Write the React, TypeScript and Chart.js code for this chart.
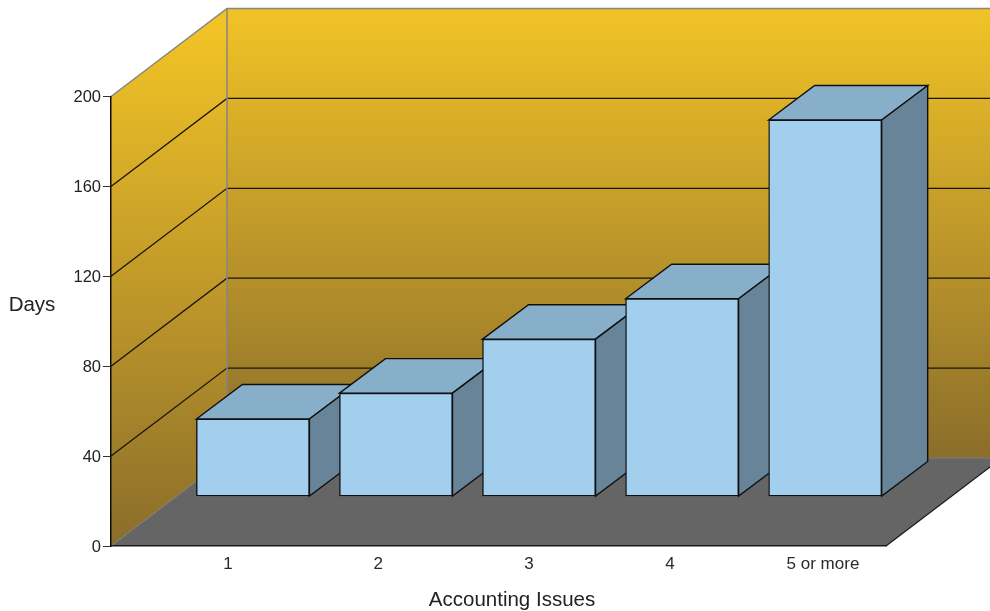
import React, { useEffect, useRef } from "react";
import { Chart, registerables } from "chart.js";

Chart.register(...registerables);

// Days per number of accounting issues
const categories = ["1", "2", "3", "4", "5 or more"];
const categoryKeys = [1, 2, 3, 4, 5];
const days = [34.5, 46, 70, 88, 167.5];
const tickStops = [1, 2.008, 3.02, 3.966, 4.993];
const yTitle = "Days";
const xTitle = "Accounting Issues";

// Oblique projection of the box the chart sits in
const ROOM_DX = 116;
const ROOM_DY = 88;
const BAR_SHIFT_X = 65;
const BAR_SHIFT_Y = 49.5;
const BAR_DEPTH_X = 46;
const BAR_DEPTH_Y = 34.5;

const FONT = '"Liberation Sans", Arial, sans-serif';

function poly(ctx: CanvasRenderingContext2D, pts: number[][]) {
  ctx.beginPath();
  pts.forEach(([x, y], i) => (i ? ctx.lineTo(x, y) : ctx.moveTo(x, y)));
  ctx.closePath();
}

function line(ctx: CanvasRenderingContext2D, pts: number[][], color: string, width: number) {
  ctx.beginPath();
  pts.forEach(([x, y], i) => (i ? ctx.lineTo(x, y) : ctx.moveTo(x, y)));
  ctx.strokeStyle = color;
  ctx.lineWidth = width;
  ctx.stroke();
}

const roomPlugin = {
  id: "room",
  beforeDatasetsDraw(chart: any) {
    const { ctx, chartArea: a, scales } = chart;
    const y = scales.y;
    const { left, right, top, bottom } = a;
    const backLeft = left + ROOM_DX;
    const backRight = right + ROOM_DX;
    const backTop = top - ROOM_DY;
    const backBottom = bottom - ROOM_DY;

    ctx.save();
    const makeWall = (from: number, to: number) => {
      const g = ctx.createLinearGradient(0, from, 0, to);
      g.addColorStop(0, "#f1c326");
      g.addColorStop(0.6, "#b5902a");
      g.addColorStop(1, "#8a6d2b");
      return g;
    };

    ctx.fillStyle = makeWall(backTop + 22, bottom);
    poly(ctx, [[left, top], [backLeft, backTop], [backLeft, backBottom], [left, bottom]]);
    ctx.fill();

    ctx.fillStyle = makeWall(backTop, backBottom);
    ctx.fillRect(backLeft, backTop, backRight - backLeft, backBottom - backTop);

    // Grid lines run across the side wall and along the back wall
    y.ticks.forEach((t: any) => {
      if (t.value === y.min || t.value === y.max) return;
      const py = y.getPixelForValue(t.value);
      line(ctx, [[left, py], [backLeft, py - ROOM_DY], [backRight, py - ROOM_DY]], "#1a1408", 1.3);
    });

    ctx.fillStyle = "#656565";
    poly(ctx, [[left, bottom], [backLeft, backBottom], [backRight, backBottom], [right, bottom]]);
    ctx.fill();

    line(ctx, [[left, bottom], [backLeft, backBottom], [backRight, backBottom]], "#7d7d7d", 1);
    line(ctx, [[right, bottom], [backRight, backBottom]], "#1a1a1a", 1.2);
    line(ctx, [[left, top], [backLeft, backTop], [backRight, backTop]], "#858585", 1.5);
    line(ctx, [[backLeft, backTop], [backLeft, backBottom]], "#858585", 1.5);
    ctx.restore();
  },
  beforeDatasetDraw(chart: any) {
    const { ctx } = chart;
    const bars = chart.getDatasetMeta(0).data;
    ctx.save();
    ctx.translate(BAR_SHIFT_X, -BAR_SHIFT_Y);
    // Top and side faces go down first; the library paints the front faces over them
    bars.forEach((el: any) => {
      const l = el.x - el.width / 2;
      const r = el.x + el.width / 2;
      const t = el.y;
      const b = el.base;
      ctx.fillStyle = "#88afca";
      poly(ctx, [[l, t], [l + BAR_DEPTH_X, t - BAR_DEPTH_Y], [r + BAR_DEPTH_X, t - BAR_DEPTH_Y], [r, t]]);
      ctx.fill();
      ctx.strokeStyle = "#101010";
      ctx.lineWidth = 1.4;
      ctx.stroke();
      ctx.fillStyle = "#678498";
      poly(ctx, [[r, t], [r + BAR_DEPTH_X, t - BAR_DEPTH_Y], [r + BAR_DEPTH_X, b - BAR_DEPTH_Y], [r, b]]);
      ctx.fill();
      ctx.stroke();
    });
  },
  afterDatasetDraw(chart: any) {
    chart.ctx.restore();
  },
  afterDraw(chart: any) {
    const { ctx } = chart;
    ctx.save();
    ctx.fillStyle = "#222222";
    ctx.font = `20.5px ${FONT}`;
    ctx.textAlign = "center";
    ctx.textBaseline = "middle";
    ctx.fillText(yTitle, 32, 305);
    ctx.fillText(xTitle, 512, 600);
    ctx.restore();
  },
};

export default function App() {
  const ref = useRef<HTMLCanvasElement>(null);

  useEffect(() => {
    const chart = new Chart(ref.current!, {
      type: "bar",
      data: {
        datasets: [
          {
            data: categoryKeys.map((k, i) => ({ x: k, y: days[i] })),
            xAxisID: "barX",
            backgroundColor: "#a3cfef",
            borderColor: "#101010",
            borderWidth: 1.4,
            borderSkipped: false,
            barThickness: 113,
            clip: false,
          },
        ],
      } as any,
      options: {
        animation: false,
        responsive: false,
        layout: { padding: { left: 0, top: 96.5, right: 104, bottom: 0 } },
        plugins: { legend: { display: false }, tooltip: { enabled: false } },
        scales: {
          barX: {
            type: "linear",
            display: false,
            offset: false,
            min: 0.4625,
            max: 5.8794,
          },
          x: {
            type: "linear",
            position: "bottom",
            offset: false,
            min: 0.2148,
            max: 5.416,
            afterFit: (s: any) => {
              s.height = 65;
            },
            afterBuildTicks: (s: any) => {
              s.ticks = tickStops.map((value) => ({ value }));
            },
            grid: { display: false, drawTicks: false },
            border: { display: true, color: "#1a1a1a", width: 1.5, z: 1 },
            ticks: {
              autoSkip: false,
              maxRotation: 0,
              padding: 8,
              color: "#2a2a2a",
              font: { family: FONT, size: 17 },
              callback: (_v: any, i: number) => categories[i],
            },
          },
          y: {
            type: "linear",
            min: 0,
            max: 200,
            afterFit: (s: any) => {
              s.width = 111;
            },
            grid: { drawOnChartArea: false, drawTicks: true, tickLength: 8, tickColor: "#333333" },
            border: { display: true, color: "#0d0d0d", width: 1.5, z: 1 },
            ticks: {
              stepSize: 40,
              padding: 2,
              labelOffset: 1,
              color: "#222222",
              font: { family: FONT, size: 16.5 },
            },
          },
        },
      } as any,
      plugins: [roomPlugin as any],
    });
    return () => chart.destroy();
  }, []);

  return (
    <canvas
      ref={ref}
      width={990}
      height={611}
      style={{ position: "absolute", left: 0, top: 0, display: "block", width: 990, height: 611 }}
    />
  );
}
